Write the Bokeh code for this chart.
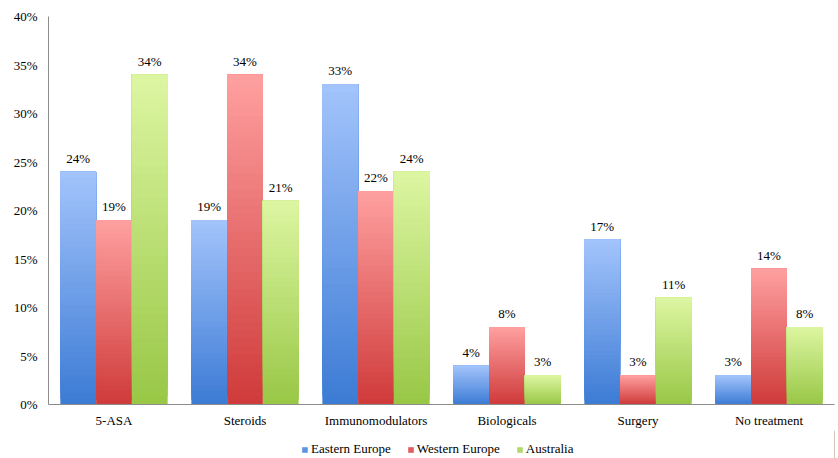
import numpy as np
from bokeh.plotting import figure
from bokeh.layouts import column
from bokeh.models import (ColumnDataSource, FactorRange, FixedTicker, PrintfTickFormatter,
                          Legend, LegendItem, Range1d)
from bokeh.transform import dodge
from bokeh.core.properties import value
from bokeh.embed import file_html
from bokeh.resources import INLINE

categories = ["5-ASA", "Steroids", "Immunomodulators", "Biologicals", "Surgery", "No treatment"]
series_names = ["Eastern Europe", "Western Europe", "Australia"]
eastern = [24, 19, 33, 4, 17, 3]
western = [19, 34, 22, 8, 3, 14]
australia = [34, 21, 24, 3, 11, 8]
y_ticks = [0, 5, 10, 15, 20, 25, 30, 35, 40]

# (bottom colour, top colour) gradient per series
grad = [("#3C7BD5", "#A3C4FB"), ("#CF3A3A", "#FFA0A0"), ("#98C746", "#DDF6A2")]
legend_colors = ["#5E93E4", "#E25E5E", "#B2DA6A"]

FONT = "Liberation Serif"
N = 40
BW = 0.273
offsets = [-BW, 0.0, BW]

p = figure(width=838, height=430, x_range=FactorRange(*categories),
           y_range=Range1d(0, 40), output_backend="svg", toolbar_location=None,
           min_border_left=48, min_border_right=4, min_border_top=16, min_border_bottom=26)
p.outline_line_color = None
p.grid.grid_line_color = None
p.x_range.range_padding = 0


def hex2rgb(h):
    h = h.lstrip("#")
    return np.array([int(h[i:i + 2], 16) for i in (0, 2, 4)], dtype=float)


def mix(c0, c1, t):
    c = hex2rgb(c0) * (1 - t) + hex2rgb(c1) * t
    return "#%02x%02x%02x" % tuple(int(round(v)) for v in c)


for vals, name, off, (cb, ct) in zip([eastern, western, australia], series_names, offsets, grad):
    xs, bots, tops, cols = [], [], [], []
    for i in range(N):
        t = (i + 0.5) / N
        col = mix(cb, ct, t)
        for c, v in zip(categories, vals):
            xs.append(c)
            bots.append(v * i / N)
            tops.append(v)
            cols.append(col)
    src = ColumnDataSource(dict(x=xs, bottom=bots, top=tops, color=cols))
    p.vbar(x=dodge("x", off, range=p.x_range), bottom="bottom", top="top", width=BW,
           fill_color="color", line_color=None, source=src)

    lsrc = ColumnDataSource(dict(x=categories, y=vals, lbl=["%d%%" % v for v in vals]))
    p.text(x=dodge("x", off, range=p.x_range), y="y", text="lbl", source=lsrc,
           text_align="center", text_baseline="bottom", y_offset=-6,
           text_font=value(FONT), text_font_size="13px", text_color="#000000")

p.yaxis.ticker = FixedTicker(ticks=y_ticks)
p.yaxis.formatter = PrintfTickFormatter(format="%d%%")
for ax in (p.xaxis, p.yaxis):
    ax.axis_line_color = "#8c8c8c"
    ax.axis_line_width = 1
    ax.major_tick_line_color = None
    ax.minor_tick_line_color = None
    ax.major_tick_out = 0
    ax.major_tick_in = 0
    ax.minor_tick_out = 0
    ax.minor_tick_in = 0
    ax.major_label_text_font = FONT
    ax.major_label_text_font_size = "13px"
    ax.major_label_text_color = "#000000"
p.yaxis.major_label_standoff = 11
p.xaxis.major_label_standoff = 8

# legend strip below the chart
pl = figure(width=838, height=28, x_range=Range1d(0, 1), y_range=Range1d(0, 1),
            output_backend="svg", toolbar_location=None,
            min_border_left=0, min_border_right=0, min_border_top=0, min_border_bottom=0)
pl.outline_line_color = None
pl.grid.grid_line_color = None
pl.axis.visible = False
items = []
for name, col in zip(series_names, legend_colors):
    # off-range point so only the legend swatch shows
    r = pl.vbar(x=[5], top=[1], width=0.1, fill_color=col, line_color=None)
    items.append(LegendItem(label=name, renderers=[r]))
legend = Legend(items=items, orientation="horizontal", location=(253, 1),
                label_text_font=FONT, label_text_font_size="13px", label_text_color="#000000",
                glyph_width=7, glyph_height=7, label_standoff=3, spacing=16,
                label_height=14, padding=0, margin=0,
                border_line_color=None, background_fill_alpha=0)
pl.add_layout(legend, "center")

layout = column(p, pl, spacing=0)
open("out.html", "w").write(file_html(layout, INLINE))
